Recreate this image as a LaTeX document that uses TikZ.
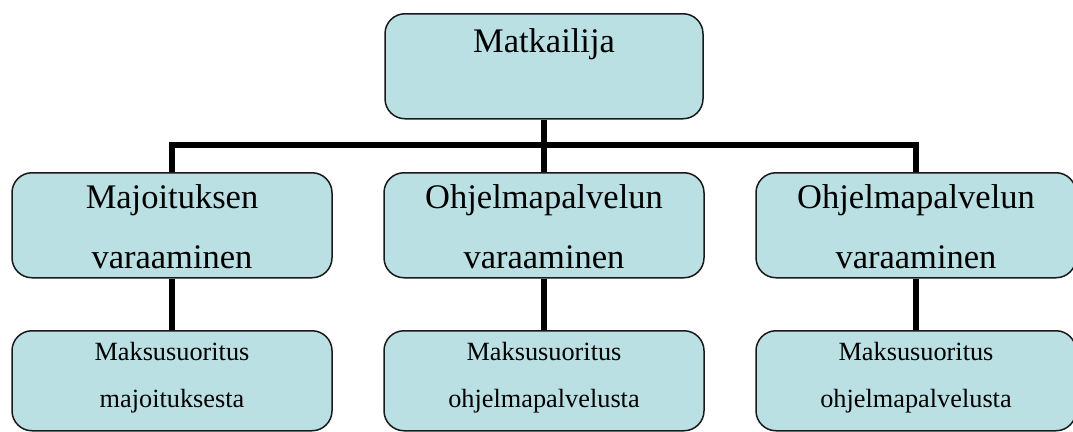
\documentclass[tikz,border=0pt]{standalone}
\usepackage{fontspec}
\setmainfont{Liberation Serif}
\usetikzlibrary{positioning}
\definecolor{BoxClr}{RGB}{186,224,227}

\begin{document}
\begin{tikzpicture}[x=1pt,y=-1pt,
  box/.style={draw=black!90,line width=1.5pt,fill=BoxClr,rounded corners=20pt,
    inner sep=0pt,minimum width=320pt,align=center,anchor=north},
  bigtxt/.style={font=\fontsize{34.5}{60}\selectfont},
  smalltxt/.style={font=\fontsize{26.3}{47}\selectfont},
  link/.style={line width=6pt}]
\useasboundingbox (0,0) rectangle (1073,431);

% top level
\node[box,bigtxt,minimum width=318pt,text height=39pt,text depth=66pt] (top) at (544,13) {Matkailija};

% bookings
\node[box,bigtxt,text height=96pt,text depth=9pt] (book1) at (172,172) {Majoituksen\\varaaminen};
\node[box,bigtxt,text height=96pt,text depth=9pt] (book2) at (544,172) {Ohjelmapalvelun\\varaaminen};
\node[box,bigtxt,text height=96pt,text depth=9pt] (book3) at (916,172) {Ohjelmapalvelun\\varaaminen};

% payments
\node[box,smalltxt,text height=77pt,text depth=23pt] (pay1) at (172,330) {Maksusuoritus\\majoituksesta};
\node[box,smalltxt,text height=77pt,text depth=23pt] (pay2) at (544,330) {Maksusuoritus\\ohjelmapalvelusta};
\node[box,smalltxt,text height=77pt,text depth=23pt] (pay3) at (916,330) {Maksusuoritus\\ohjelmapalvelusta};

% connectors
\coordinate (bar) at (544,145);
\draw[link] (top.south) -- (bar);
\draw[link] (book1.north) |- (bar) -| (book3.north);
\draw[link] (bar) -- (book2.north);
\foreach \i in {1,2,3}
  \draw[link] (book\i.south) -- (pay\i.north);

\end{tikzpicture}
\end{document}
